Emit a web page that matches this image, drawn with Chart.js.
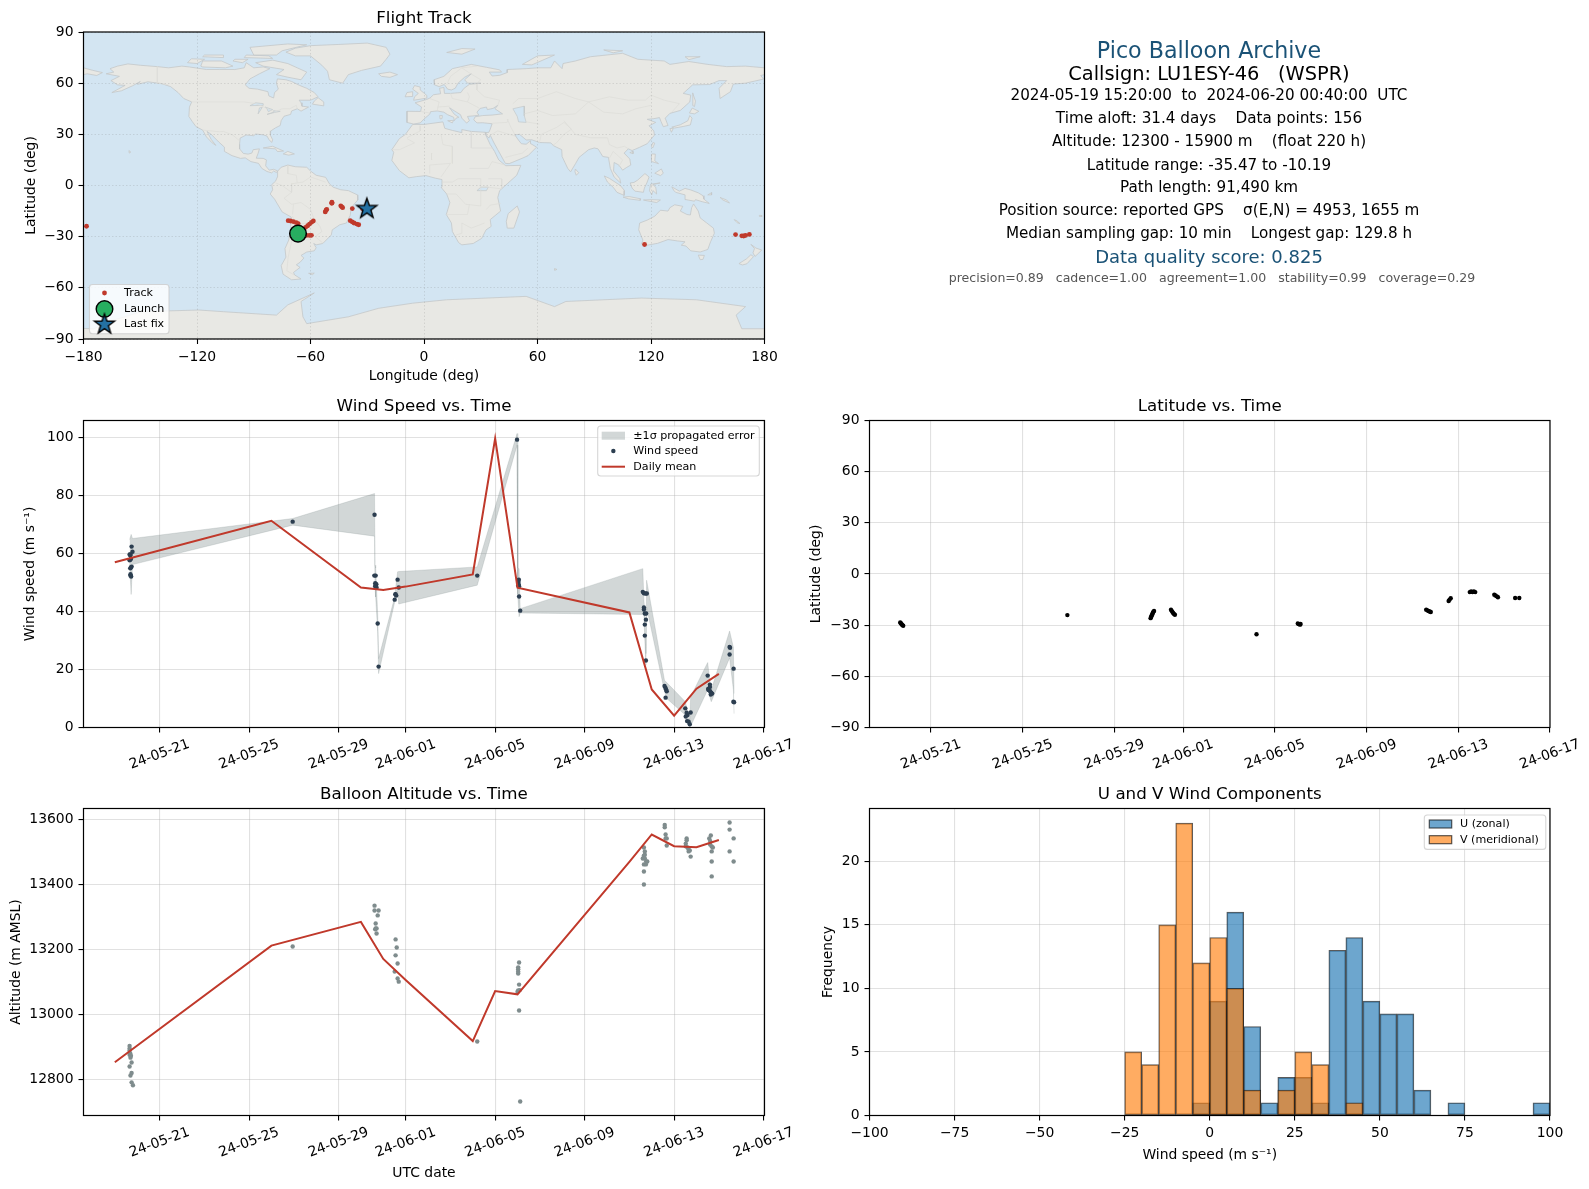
<!DOCTYPE html>
<html>
<head>
<meta charset="utf-8">
<title>Pico Balloon Archive</title>
<script src="https://cdn.jsdelivr.net/npm/chart.js@4/dist/chart.umd.min.js"></script>
<style>
html, body { margin: 0; padding: 0; background: #fff; overflow: hidden; width: 1589px; height: 1189px; }
canvas { position: absolute; }
.info { position: absolute; width: 800px; text-align: center; white-space: pre; font-family: "DejaVu Sans"; transform: translateY(-50%); color: #000; }
</style>
</head>
<body>
<canvas id="mapChart" width="848" height="380" style="left:0;top:5px"></canvas>
<canvas id="windChart" width="848" height="384" style="left:0;top:394px"></canvas>
<canvas id="latChart" width="820" height="384" style="left:800px;top:394px"></canvas>
<canvas id="altChart" width="848" height="400" style="left:0;top:782px"></canvas>
<canvas id="histChart" width="820" height="382" style="left:800px;top:782px"></canvas>
<div id="infoPanel"></div>

<script>
// time axis: days counted from May 0, so 21 = May 21 and 32 = June 1
const timeTicks = [21, 25, 29, 32, 36, 40, 44, 48];
const timeTickLabels = ['24-05-21', '24-05-25', '24-05-29', '24-06-01', '24-06-05', '24-06-09', '24-06-13', '24-06-17'];

// wind speed samples
const windDays = [19.75, 19.79, 19.66, 19.69, 19.70, 19.69, 19.66, 19.72, 19.75, 19.72, 19.69, 19.70, 19.70, 19.73,
    26.95, 30.61, 30.60, 30.66, 30.64, 30.66, 30.69, 30.67, 30.70, 30.64, 30.75, 30.79,
    31.64, 31.69, 31.54, 31.58, 31.51, 31.55, 35.20, 36.98, 37.06, 37.04, 37.05, 37.07, 37.03, 37.07, 37.12,
    42.60, 42.65, 42.78, 42.72, 42.65, 42.65, 42.69, 42.75, 42.74, 42.69, 42.69, 42.74,
    43.57, 43.61, 43.64, 43.67, 43.62, 44.50, 44.56, 44.74, 44.60, 44.52, 44.58, 44.65, 44.70,
    45.50, 45.60, 45.60, 45.52, 45.54, 45.61, 45.66, 45.70, 45.64, 46.48, 46.50, 46.48, 46.66, 46.65, 46.68];
const windSpeeds = [62.4, 60.6, 59.7, 59.4, 59.7, 57.9, 57.7, 58.2, 55.5, 55.2, 54.9, 52.9, 52.4, 52.1,
    71.0, 73.4, 52.4, 52.4, 49.8, 49.1, 49.4, 48.5, 48.2, 48.7, 35.9, 21.0,
    51.0, 48.3, 46.0, 45.5, 44.1, 45.9, 52.4, 99.3, 51.0, 50.2, 49.4, 48.7, 49.0, 45.2, 40.3,
    46.8, 46.3, 46.2, 46.2, 41.4, 40.7, 39.3, 39.3, 37.2, 35.5, 31.7, 23.1,
    14.3, 13.7, 13.1, 12.5, 10.3, 6.6, 5.1, 5.2, 4.3, 3.8, 2.2, 2.0, 1.1,
    17.9, 14.8, 14.0, 13.3, 12.9, 12.5, 12.0, 11.7, 11.4, 27.8, 27.5, 25.2, 20.3, 8.9, 8.7];

// propagated error band
const bandDays = [19.66, 19.73, 19.79, 26.95, 30.61, 30.63, 30.66, 30.75, 30.79, 31.51, 31.55, 31.64, 31.69,
    35.20, 36.98, 37.01, 37.07, 37.12, 42.60, 42.65, 42.69, 42.74, 42.77, 43.57, 43.67,
    44.50, 44.70, 44.74, 45.50, 45.58, 45.66, 46.48, 46.65, 46.68];
const bandUpper = [64.8, 66.6, 65.2, 72.1, 80.7, 56.0, 55.0, 39.0, 23.8, 45.0, 48.0, 53.7, 53.8,
    55.4, 101.4, 55.0, 54.8, 41.0, 54.8, 44.0, 40.0, 25.5, 50.8, 16.3, 15.5,
    8.9, 2.5, 10.6, 22.4, 17.0, 12.9, 33.3, 27.6, 11.7];
const bandLower = [56.6, 45.9, 56.2, 69.8, 66.0, 48.0, 45.0, 33.0, 18.6, 43.3, 44.0, 47.0, 42.6,
    49.1, 97.4, 46.0, 38.2, 39.5, 39.0, 39.0, 30.0, 21.5, 41.5, 12.5, 10.0,
    4.3, 0.2, 0.5, 13.0, 11.0, 8.9, 24.0, 13.0, 4.8];

// daily means
const meanDays = [19, 26, 30, 31, 32, 35, 36, 37, 42, 43, 44, 45, 46];
const meanWind = [57.0, 71.3, 48.3, 47.4, 48.6, 52.8, 99.7, 48.2, 39.7, 13.1, 4.1, 13.4, 18.5];
const meanAlt = [12853, 13212, 13285, 13171, 13106, 12918, 13072, 13062, 13470, 13554, 13518, 13515, 13537];

// altitude samples
const altDays = [19.66, 19.66, 19.66, 19.69, 19.66, 19.72, 19.70, 19.75, 19.66, 19.75, 19.70, 19.75, 19.81,
    26.95, 30.61, 30.61, 30.79, 30.75, 30.66, 30.66, 30.70, 30.64, 30.70,
    31.55, 31.60, 31.55, 31.64, 31.51, 31.64, 31.69, 35.20,
    37.07, 37.03, 37.03, 37.03, 37.03, 37.07, 37.03, 37.00, 37.10, 37.07, 37.12,
    42.65, 42.69, 42.69, 42.65, 42.60, 42.69, 42.75, 42.80, 42.65, 42.74, 42.65, 42.65,
    43.58, 43.58, 43.62, 43.62, 43.67, 43.67, 44.56, 44.56, 44.52, 44.52, 44.60, 44.65, 44.70, 44.65, 44.74,
    45.64, 45.57, 45.61, 45.61, 45.68, 45.73, 45.68, 45.68, 45.68, 46.48, 46.48, 46.66, 46.48, 46.66];
const altMeters = [12903, 12895, 12889, 12880, 12876, 12873, 12867, 12852, 12840, 12820, 12812, 12791, 12782,
    13209, 13335, 13320, 13320, 13305, 13280, 13265, 13265, 13262, 13249,
    13231, 13206, 13182, 13157, 13132, 13111, 13101, 12917,
    13160, 13145, 13139, 13132, 13126, 13092, 13074, 13070, 13075, 13012, 12732,
    13514, 13502, 13492, 13489, 13480, 13480, 13471, 13471, 13462, 13462, 13440, 13400,
    13583, 13576, 13554, 13542, 13542, 13520, 13542, 13536, 13526, 13518, 13514, 13508, 13505, 13502, 13486,
    13551, 13542, 13534, 13523, 13517, 13514, 13502, 13471, 13425, 13591, 13569, 13542, 13502, 13471];

// latitude samples
const latDays = [19.66, 19.69, 19.72, 19.75, 19.79, 26.95,
    30.58, 30.60, 30.62, 30.64, 30.66, 30.68, 30.70, 30.73,
    31.47, 31.50, 31.53, 31.56, 31.60, 31.64, 35.20, 37.00, 37.05, 37.10, 37.12,
    42.60, 42.65, 42.70, 42.75, 42.80, 43.58, 43.62, 43.67,
    44.50, 44.56, 44.62, 44.68, 44.74, 45.57, 45.62, 45.68, 45.73, 46.48, 46.66];
const latValues = [-28.4, -28.9, -29.4, -29.9, -30.3, -24.1,
    -25.9, -25.2, -24.6, -24.0, -23.4, -22.7, -22.2, -21.7,
    -21.0, -21.6, -22.2, -22.8, -23.4, -23.9, -35.3, -29.0, -29.4, -29.7, -29.3,
    -20.9, -21.3, -21.7, -22.0, -22.3, -15.8, -15.0, -14.2,
    -10.6, -10.3, -10.6, -10.3, -10.6, -12.1, -12.6, -13.1, -13.6, -14.1, -14.1];

// flight track
const trackLon = [-66, -64, -62, -60.5, -59.5, -178.4, -62.6, -61.5, -60.5, -59.5, -58.5,
    -71.8, -70.5, -69, -67.5, -66.5, 116.6, 164.7, 168, 169, 170, 172,
    -39, -38, -37, -35.5, -34.5, -52.2, -51.8, -51.4, -48.8, -48.7, -48.6, -44, -43.5, -43, -37.9, -32.5];
const trackLat = [-28.4, -28.8, -29.2, -29.3, -29.2, -23.9, -24.5, -23.6, -22.6, -21.6, -20.8,
    -20.6, -20.8, -21.2, -21.8, -22.4, -34.6, -28.8, -29.5, -29.6, -29.3, -28.7,
    -20.6, -21.3, -22, -22.6, -23, -15.5, -14.5, -14, -10.4, -9.8, -10.2, -11.9, -12.5, -13, -13.5, -13.7];
const launchLon = [-66.6];
const launchLat = [-28.2];
const lastFixLon = [-30.2];
const lastFixLat = [-13.4];

// histogram, 5 m/s bins
const binCenters = [-22.5, -17.5, -12.5, -7.5, -2.5, 2.5, 7.5, 12.5, 17.5, 22.5, 27.5, 32.5, 37.5, 42.5, 47.5, 52.5, 57.5, 62.5, 67.5, 72.5, 77.5, 82.5, 87.5, 92.5, 97.5];
const uCounts = [0, 0, 0, 0, 1, 9, 16, 7, 1, 3, 3, 1, 13, 14, 9, 8, 8, 2, 0, 1, 0, 0, 0, 0, 1];
const vCounts = [5, 4, 15, 23, 12, 14, 10, 2, 0, 2, 5, 4, 0, 1, 0, 0, 0, 0, 0, 0, 0, 0, 0, 0, 0];

// text panel: text, centre y, font px, colour, left edge of the centred block
const infoLines = [
    ['Pico Balloon Archive', 50, 22.2, '#1a5276', 809],
    ['Callsign: LU1ESY-46   (WSPR)', 72.8, 19.4, '#000', 809],
    ['2024-05-19 15:20:00  to  2024-06-20 00:40:00  UTC', 94.7, 15.2, '#000', 809],
    ['Time aloft: 31.4 days    Data points: 156', 118, 15.2, '#000', 809],
    ['Altitude: 12300 - 15900 m    (float 220 h)', 141, 15.2, '#000', 809],
    ['Latitude range: -35.47 to -10.19', 165, 15.2, '#000', 809],
    ['Path length: 91,490 km', 187, 15.2, '#000', 809],
    ['Position source: reported GPS    σ(E,N) = 4953, 1655 m', 210, 15.2, '#000', 809],
    ['Median sampling gap: 10 min    Longest gap: 129.8 h', 233, 15.2, '#000', 809],
    ['Data quality score: 0.825', 256, 18, '#1a5276', 809],
    ['precision=0.89   cadence=1.00   agreement=1.00   stability=0.99   coverage=0.29', 276.8, 12.55, '#555', 812],
];

// base map, [lon, lat] outlines
const landShapes = [
    // North America
    [[-168,65.5],[-164,66.5],[-166,68.5],[-162,70],[-156.5,71.3],[-150,70.5],[-141,69.7],[-135,69],[-128,70],[-124,69.5],[-115,68],[-108,68],[-100,68],[-95,69],[-94,72],[-90,69],[-85,69.5],[-81.5,68.5],[-87,65.5],[-92,62.5],[-94.5,59],[-92.5,57],[-88,56.5],[-82.5,55],[-82,52.5],[-79.5,51.3],[-79,54.5],[-77,56.5],[-78,60],[-77.5,62.5],[-73,62],[-70,61],[-66,58.8],[-62,57],[-58,54.5],[-56,52],[-60,50],[-66,50],[-65,48.5],[-64.5,46.5],[-61,46],[-65,43.6],[-67,45],[-70,43.7],[-70.5,41.7],[-74,40.6],[-75.5,38],[-76,35.2],[-78.5,33.8],[-81,32],[-81.2,29.5],[-80,26.8],[-80.5,25.2],[-82,27],[-83,29],[-85,29.7],[-89,30.2],[-90,29.2],[-94,29.6],[-97.2,27.8],[-97.5,24],[-97.5,21.5],[-95.5,18.8],[-93,18.4],[-91,19],[-90.3,21],[-87,21.5],[-87.8,18.5],[-88.7,16],[-85,15.9],[-83.3,15],[-83.7,11.5],[-81.8,9],[-79.5,9.5],[-77.4,8.6],[-78,7.6],[-79.5,8.5],[-80.5,7.4],[-83,8.2],[-85.7,10],[-87.5,13],[-91.5,14],[-94.5,16.2],[-97,15.9],[-101.5,17.5],[-105.5,20],[-105.5,22.5],[-108.5,25.5],[-112.5,30],[-114.7,31.7],[-112.5,27],[-110,23.5],[-112,25],[-115,28.5],[-117,32.5],[-120.5,34.5],[-122.5,37.5],[-124.3,40.5],[-124,46],[-122.8,49],[-127,51],[-130,54.5],[-134,58],[-139,59.8],[-146,60.8],[-151.5,59.3],[-150,61],[-154,58.5],[-160,55.5],[-165,54.5],[-158,58.7],[-162,59],[-165.5,61.5],[-161,64]],
    // Canadian Arctic, Newfoundland
    [[-80,73.5],[-72,71.5],[-67,69],[-62,66.5],[-65,62],[-72,63.5],[-78,65],[-74,68],[-85,70],[-89,72]],
    [[-117,69.5],[-105,69],[-101,70],[-107,73],[-117,73],[-118,70]],
    [[-125,72],[-123,74.3],[-116,74],[-120,71.5]],
    [[-90,76.5],[-78,76.5],[-75,79],[-62,82.5],[-72,83],[-92,81]],
    [[-95,75],[-80,74.5],[-82,76],[-94,76.5]],
    [[-117,75.5],[-106,75],[-106,76.5],[-116,76.5]],
    [[-101,73],[-96,72],[-93,74],[-100,74]],
    [[-59,47.7],[-53,46.7],[-53,49],[-56,51.5],[-58,49.5]],
    // Greenland, Iceland, British Isles
    [[-73,78.2],[-68,76],[-60,76],[-54,70.5],[-51,67],[-50,62],[-43,60],[-40,65],[-33,67.5],[-23,70],[-20,74],[-18,77],[-20,81],[-30,83.5],[-45,82.7],[-60,82],[-68,80.5]],
    [[-24,65.5],[-18,66.5],[-14,65],[-18,63.4],[-22.5,64]],
    [[-5.5,50],[1.3,51.2],[1.5,52.8],[-2,56],[-2,57.7],[-5,58.6],[-6,56.5],[-3,54],[-5,52]],
    [[-10,52],[-6,52.2],[-6,55],[-9,54.5]],
    // Caribbean, Hawaii
    [[-85,22],[-80,23],[-74.2,20.2],[-77.5,19.9],[-78.5,21.5]],
    [[-74.4,18.5],[-72,20],[-68.5,18.5],[-71.5,17.8]],
    [[-156,20.5],[-155,19.6],[-155.8,19]],
    // South America
    [[-77.3,8.5],[-75.5,10.7],[-72,12],[-68,11],[-62,10.7],[-60,8.5],[-57,6],[-52,4.8],[-50,1],[-48,-1],[-44,-2.5],[-40,-3],[-35.2,-5.5],[-35,-8.5],[-38.5,-13],[-39,-17.5],[-41,-22],[-44.5,-23],[-48.5,-26],[-49,-29],[-53.5,-34],[-57,-34.8],[-58.3,-34],[-57,-36.5],[-58,-38.3],[-62,-39],[-65,-41],[-63.5,-42.5],[-65.5,-45],[-67.5,-46.5],[-65.5,-48],[-69,-51],[-68.3,-52.5],[-65,-54.8],[-70,-55.3],[-74.5,-52],[-75.5,-47],[-73,-42],[-73.5,-37],[-71.5,-32],[-70.5,-25],[-70.2,-18.5],[-75,-15.5],[-79,-8],[-81.3,-5],[-80,-2.5],[-80.5,0.5],[-78.5,2.5],[-77.5,5],[-77.5,7]],
    [[-61,-51.5],[-58,-51.4],[-59,-52.3]],
    // Africa, Madagascar
    [[-6,35.8],[0,35.8],[10,37.3],[11,33.5],[15,32.3],[20,31],[20,32.8],[25,31.7],[32.5,31.2],[32.5,29.9],[35,24],[37.3,20],[39.5,15],[43.2,11.6],[51.2,11.8],[49,6],[44,1],[40,-3],[39,-7],[40.5,-15],[35,-20],[35.5,-24],[32.8,-26],[30.5,-31],[26,-34],[20,-34.8],[18.3,-33.5],[15,-27],[14.5,-22],[11.8,-17],[13.7,-10],[12,-5],[9,-1],[9.5,3.5],[6,4.3],[1,5.8],[-4,5.2],[-8,4.5],[-13,8.7],[-17,14.7],[-16,19.5],[-17,21],[-13,27.5],[-9.8,30]],
    [[49.3,-12],[50.5,-15.5],[47.5,-25],[44,-25],[43.5,-21],[44.5,-16.5]],
    // Eurasia
    [[-9,37],[-5.5,36],[-2,36.7],[0,39],[3,41.8],[3.5,43.3],[7,43.7],[10.5,43],[12.5,41.5],[15.7,40],[16,38],[17,39.5],[18.4,40],[16,41.8],[13.5,45.6],[15,44.5],[19.3,41.5],[20,39.5],[22.5,36.6],[24,38],[23,40.5],[26,40.8],[29,41.2],[28,43],[29.7,45.2],[33,46],[33.5,44.5],[36.5,45.2],[39,47],[37.5,45],[41.5,42],[36,41.3],[31,41],[27,40.3],[26.3,38.5],[28,36.7],[31,36.8],[36,36.2],[35,33],[34.3,31.2],[32.5,31],[32.7,29.9],[34.3,27.8],[35,29.5],[37,25],[39,21],[43,13],[45,12.8],[52,16],[55,17.5],[59.5,22.5],[56.5,24.5],[56.3,26.2],[54,24.2],[51.5,24.5],[50,26.5],[48,29.7],[50.5,30],[54,26.7],[57,26.8],[61,25.2],[67,25],[68.5,23.3],[72.8,21],[73,17],[76,10],[77.5,8],[80.2,13],[82,16.5],[87,21],[90,22],[92,21.5],[94.5,17],[97.5,16.5],[98.5,10],[100.5,5],[104,1.4],[103.5,4],[100.2,8.5],[100.5,13.5],[103,12],[105,9],[107,10.5],[109.3,12],[108.8,15.5],[105.8,19],[108,21.5],[110,20.5],[113.8,22.3],[118,24.5],[121.8,29.5],[121.5,32],[119,35],[122.5,37],[118,38.8],[121.5,39.2],[124.5,39.8],[125.3,37.5],[126.5,34.5],[129,35.2],[127.5,39.5],[130,42.3],[135.5,44],[140.5,49],[141,53],[137,54],[142,59],[151,59.2],[156,61.5],[160,61.5],[156,57],[156.5,51],[162,55],[163.5,59.5],[170,60],[179.5,62.4],[178,64.5],[180,65],[180,69],[170,70],[160,69.7],[150,71],[140,72.7],[130,71],[127,73],[113,74],[105,77.5],[88,75.5],[80,73],[73.5,71.5],[73,68.5],[69,73],[67,69],[60,69],[54,68.5],[44,68],[44,66.2],[40,64.6],[36,64.2],[34.5,66.5],[41,66.5],[40,67.8],[33,69.3],[25,71],[15,68.5],[10.5,64],[5.3,62],[5.5,59],[8,58],[10.7,59.2],[12.5,56.5],[14.5,56],[16.5,57],[18,60],[21.5,63.5],[25,65.5],[21.5,62],[23,60],[30,60],[24,59.3],[21,56.8],[19.5,54.5],[14,54],[10.8,54],[10.5,57.5],[8.2,57],[8.8,53.8],[5,53.2],[3.2,51.3],[1.5,50.5],[-1.5,49.5],[-4.7,48.5],[-1.3,46],[-1.8,43.4],[-9,43.5]],
    [[-180,69],[-175,67.5],[-170,66.2],[-173,64.5],[-178,65.5],[-180,65]],
    // Arctic Russia, Svalbard
    [[12,78],[20,80.3],[27,80],[20,77]],
    [[52,71],[57,70.7],[69,76.5],[60,76]],
    [[95,79.5],[105,79],[100,77.8]],
    [[138,75.5],[146,75.5],[140,73.8]],
    // Mediterranean islands, Sri Lanka, Taiwan, Hainan
    [[12.5,38],[15.6,38.2],[15,36.7]],
    [[8.3,41],[9.7,41],[9.5,39.2],[8.5,39]],
    [[80,9.7],[81.8,7.5],[80.5,6],[79.8,8]],
    [[121,25.2],[122,24.8],[120.9,22],[120.2,23]],
    [[108.8,19.3],[110.5,20],[110.5,18.6]],
    // Japan, Sakhalin
    [[131,34.2],[135.5,35.6],[139.5,38],[140.5,41],[141.7,39.5],[140.8,35.5],[137,34.6],[132.5,33.7]],
    [[130,33.4],[131.8,33.5],[130.8,31.2]],
    [[140.3,42.5],[141.8,45.4],[145.3,43.5],[143,42]],
    [[142,54.3],[143.5,49.5],[143,46.3],[142,47],[142.2,51]],
    // Southeast Asia
    [[120.5,18.5],[122.3,18.4],[122,14.5],[124,12.8],[120.5,14],[120,16.5]],
    [[122,7.2],[125.5,9.7],[126.5,7.2],[125,5.8]],
    [[109,1.5],[111,1.8],[113,3.2],[116.8,7],[119,5],[117.8,1.5],[116.5,-1.5],[116,-4],[111.5,-3.3],[110,-1.5]],
    [[95.3,5.6],[98,4.2],[103.8,0],[106,-3],[105.8,-5.8],[102,-4],[100,-1],[97,2]],
    [[105.2,-6.8],[108.5,-6.5],[114.5,-7.8],[114.3,-8.7],[108,-7.8]],
    [[119.8,0.8],[124.8,1.5],[121,0.5],[122.5,-1],[123,-5],[121,-3],[120.4,-5.5],[119.2,-3]],
    [[116,-8.5],[120,-8.3],[125,-8.5],[123,-10],[118,-9]],
    [[131,-0.8],[135,-3.3],[138,-1.7],[141,-2.6],[145,-4.3],[147.5,-6],[148,-8],[150.8,-10.5],[147,-9.5],[143.5,-8.3],[143,-9.2],[138.5,-8.3],[138,-5.5],[133,-4],[132,-2.8]],
    [[150,-5.5],[152,-4.2],[152,-5.5]],
    [[156.5,-7],[160,-8.5],[161.5,-10.3],[158,-8.5]],
    // Oceania
    [[114,-22],[113.5,-26],[115.7,-32],[115,-34.3],[118,-35],[123.5,-33.9],[129,-31.7],[134,-32.5],[138,-33],[136,-35],[138.5,-35.5],[141,-38.3],[146,-39],[150,-37.5],[151.5,-33],[153.5,-28],[153,-25],[149.5,-22],[146,-19],[145,-15],[142.5,-10.8],[141.5,-13],[140.8,-17.3],[139,-17],[135.5,-15],[136.8,-12.2],[132.5,-11.3],[130,-13],[129,-15],[125,-14.5],[122,-18],[118,-20.3]],
    [[145,-40.8],[148.2,-41],[147.5,-43.3],[146,-43.5]],
    [[172.8,-34.5],[175.5,-36.7],[178.5,-37.8],[177,-39.6],[175,-41.6],[173.9,-39.5],[174.7,-37]],
    [[172.8,-40.6],[174.2,-41.7],[170.7,-45.9],[168.3,-46.6],[166.5,-45.8],[170.5,-43]],
    [[164,-20],[165.5,-20.8],[167,-22.3],[165.5,-21.8]],
    [[177.3,-17.5],[178.5,-17.6],[178.5,-18.2],[177.3,-18.1]],
    [[69,-48.7],[70.3,-49.2],[69.2,-49.7]],
    // Antarctica
    [[-180,-83.8],[-174.5,-84],[-168,-80],[-158,-77],[-150,-74],[-119,-73],[-106,-74],[-78,-76],[-72,-70],[-58,-63],[-65,-68],[-64,-77],[-62,-81],[-40,-77],[-24,-72],[-6,-69],[12,-67],[54,-65],[69,-71],[75,-68],[115,-66],[144,-67],[170,-71],[165,-76],[168,-84],[180,-84],[180,-90],[-180,-90]],
];
const waterShapes = [
    [[47,45],[53,46.5],[53,41],[54,37],[50,37.3],[49.3,40.5]],
    [[-92,46.8],[-85,47],[-85,48],[-89,48.5]],
    [[-87.7,42],[-85.5,45.8],[-87,45.5]],
    [[-84,46],[-80,44.5],[-82.3,43.3],[-83,45]],
    [[-83,41.7],[-79,42.8],[-76,43.5],[-79.5,43.8],[-79.5,43]],
    [[28,-3],[30,-1],[34,-1],[33,-3]],
];
const borderLines = [
    [[-123,49],[-95,49],[-89,48],[-82.5,45],[-79,43],[-75,45],[-71,45],[-67.5,47],[-67,45]],
    [[-141,69.7],[-141,60],[-135,59]],
    [[-117,32.5],[-108,31.5],[-106,31.7],[-101,29.5],[-97.3,26]],
    [[-52,2],[-60,5],[-64,2],[-70,1],[-70,-4],[-74,-7.5],[-70,-11],[-65,-10],[-60,-14],[-58,-20],[-55,-24],[-54,-27],[-57.5,-30],[-53.5,-33.7]],
    [[-69.5,-18],[-68,-23],[-70,-33],[-71.8,-42],[-72.5,-50],[-68.5,-52.5]],
    [[-69.5,-17],[-69,-11]],
    [[-78.5,1.5],[-75,0],[-70,-4]],
    [[-72,11.5],[-72,7],[-67.5,6],[-67,1.5]],
    [[-68,-23],[-62,-22],[-58,-20]],
    [[9,30],[10,24],[12,23.5],[15,23],[15,13]],
    [[25,31.5],[25,22],[36.5,22]],
    [[4,19],[4,15]],
    [[-17,21],[-13,21],[-5,25],[-9,27.5]],
    [[-2,35],[-2,32],[-9,28]],
    [[24,10],[34,10],[36,14],[43,12]],
    [[12,-5],[17,-5],[22,-11],[30,-12],[30,-1],[30,4],[18,4],[15,2],[9.5,2]],
    [[17,-29],[20,-28],[20,-22],[25,-25],[32,-22]],
    [[12,-17],[23,-17],[24,-11]],
    [[34,4],[41,4],[41,-2],[34,-1],[30,-1]],
    [[40.5,-10.5],[35,-11.5],[33,-14]],
    [[3,7],[3,12],[14,13],[9,5]],
    [[28,60],[28,56],[32,52],[40,50],[39,47]],
    [[47,48],[50,51],[60,51],[70,55],[80,51],[87,49],[98,52],[108,50],[117,50],[120,53],[127,50],[135,48],[131,43]],
    [[87,49],[95,43],[105,42],[112,45],[120,47]],
    [[74,38],[80,30],[88,28],[97,28],[98,24],[102,22],[106,23],[108,21.5]],
    [[61,25],[62,30],[70,34],[74,37],[78,33],[74,30],[70,25],[68,23.5]],
    [[44,39],[46,34],[48,30]],
    [[61,36],[54,37.3]],
    [[53,42],[60,44],[68,41],[80,42],[87,49]],
    [[36,36.5],[44,37],[44.5,39]],
    [[35,29.5],[39,32],[48,29]],
    [[55,22],[52,19],[43,16.5]],
    [[-1.8,43.4],[3,42.5]],
    [[3,51],[8,49],[7,44]],
    [[14,54],[15,51],[23,49],[24,52],[23,54.5]],
    [[7,46],[13.5,46.5]],
    [[23,49],[29,45.5]],
    [[12,59],[14,64],[20,69],[28,70]],
    [[20,69],[24,66],[30,62],[28,60]],
    [[98,16],[100,20],[102,18],[105,15],[103,11]],
];

Chart.defaults.font.family = "'DejaVu Sans', sans-serif";
Chart.defaults.font.size = 13.9;
Chart.defaults.color = '#000';
Chart.defaults.animation = false;
Chart.defaults.events = [];
Chart.defaults.plugins.legend.display = false;
Chart.defaults.plugins.tooltip.enabled = false;

const GRID = 'rgba(176,176,176,0.38)';
const MAP_GRID = 'rgba(120,120,120,0.25)';
const RED = '#c0392b';
const BAND = 'rgba(127,140,141,0.35)';
const BAND_EDGE = 'rgba(127,140,141,0.22)';

function pairs(xs, ys) {
    return xs.map((x, i) => ({ x: x, y: ys[i] }));
}

function outline(shape, closed) {
    const pts = shape.map(p => ({ x: p[0], y: p[1] }));
    if (closed) pts.push(pts[0]);
    return pts;
}

// five pointed star sprite, Chart.js only has the line version
function starSprite(fill) {
    const c = document.createElement('canvas');
    c.width = 26;
    c.height = 26;
    const g = c.getContext('2d');
    g.translate(13, 13.5);
    g.beginPath();
    for (let i = 0; i < 10; i++) {
        const r = i % 2 ? 4.2 : 10.5;
        const a = -Math.PI / 2 + i * Math.PI / 5;
        g.lineTo(r * Math.cos(a), r * Math.sin(a));
    }
    g.closePath();
    g.fillStyle = fill;
    g.fill();
    g.lineWidth = 1.4;
    g.strokeStyle = '#000';
    g.stroke();
    return c;
}
const starImage = starSprite('#2471a3');

// axes frame, plot-centred title, date labels centred on the tick, legend inside the plot
const panelPlugin = {
    id: 'panel',
    beforeDraw(chart, args, opts) {
        if (!opts.background) return;
        const a = chart.chartArea;
        chart.ctx.fillStyle = opts.background;
        chart.ctx.fillRect(a.left, a.top, a.right - a.left, a.bottom - a.top);
    },
    afterDraw(chart, args, opts) {
        const ctx = chart.ctx;
        const a = chart.chartArea;
        ctx.save();
        ctx.strokeStyle = '#000';
        ctx.lineWidth = 1.2;
        ctx.strokeRect(a.left, a.top, a.right - a.left, a.bottom - a.top);
        ctx.fillStyle = '#000';
        ctx.textAlign = 'center';
        ctx.textBaseline = 'middle';
        ctx.font = "16.7px 'DejaVu Sans'";
        ctx.fillText(opts.title, (a.left + a.right) / 2, a.top - 13.5);
        if (opts.dateLabels) {
            ctx.font = "13.9px 'DejaVu Sans'";
            timeTicks.forEach((t, i) => {
                ctx.save();
                ctx.translate(chart.scales.x.getPixelForValue(t), a.bottom + 27);
                ctx.rotate(-20 * Math.PI / 180);
                ctx.fillText(timeTickLabels[i], 0, 0);
                ctx.restore();
            });
        }
        if (opts.legend) drawLegend(ctx, opts.legend);
        ctx.restore();
    }
};
Chart.register(panelPlugin);

function drawLegend(ctx, lg) {
    ctx.beginPath();
    ctx.roundRect(lg.x, lg.y, lg.w, lg.h, 3);
    ctx.fillStyle = 'rgba(255,255,255,0.8)';
    ctx.fill();
    ctx.strokeStyle = 'rgba(204,204,204,0.8)';
    ctx.lineWidth = 1.1;
    ctx.stroke();
    ctx.font = "11.1px 'DejaVu Sans'";
    ctx.textAlign = 'left';
    ctx.textBaseline = 'middle';
    lg.items.forEach(it => {
        const mid = lg.swatchX + lg.swatchW / 2;
        if (it.kind === 'box') {
            ctx.fillStyle = it.fill;
            ctx.fillRect(lg.swatchX, it.y - 4, lg.swatchW, 8);
            if (it.stroke) {
                ctx.strokeStyle = it.stroke;
                ctx.lineWidth = 1.2;
                ctx.strokeRect(lg.swatchX, it.y - 4, lg.swatchW, 8);
            }
        } else if (it.kind === 'line') {
            ctx.strokeStyle = it.stroke;
            ctx.lineWidth = 2;
            ctx.beginPath();
            ctx.moveTo(lg.swatchX, it.y);
            ctx.lineTo(lg.swatchX + lg.swatchW, it.y);
            ctx.stroke();
        } else if (it.kind === 'dot') {
            ctx.beginPath();
            ctx.arc(mid, it.y, it.r, 0, Math.PI * 2);
            ctx.fillStyle = it.fill;
            ctx.fill();
            if (it.stroke) {
                ctx.strokeStyle = it.stroke;
                ctx.lineWidth = 1.4;
                ctx.stroke();
            }
        } else if (it.kind === 'star') {
            ctx.drawImage(starImage, mid - 13, it.y - 13);
        }
        ctx.fillStyle = '#000';
        ctx.fillText(it.label, lg.textX, it.y);
    });
}

function sharedGrid(extra) {
    return Object.assign({ color: GRID, lineWidth: 1.1, tickColor: '#000', tickWidth: 1.1, tickLength: 5 }, extra);
}

function minusSign(v) {
    return String(v).replace('-', '\u2212');
}

function yAxis(width, label, titlePad, min, max, step, extra) {
    return Object.assign({
        type: 'linear', min: min, max: max,
        afterFit: s => { s.width = width; },
        border: { display: false },
        grid: sharedGrid(),
        // includeBounds off so no tick lands on a non-round axis limit
        ticks: { stepSize: step, includeBounds: false, padding: 5, maxRotation: 0, callback: minusSign },
        title: { display: true, text: label, font: { size: 13.9 }, padding: { top: titlePad, bottom: 0 } }
    }, extra);
}

function valueAxis(min, max, step, height, label, extra) {
    return Object.assign({
        type: 'linear', min: min, max: max,
        afterFit: s => { s.height = height; },
        border: { display: false },
        grid: sharedGrid(),
        ticks: { stepSize: step, padding: 5, maxRotation: 0, autoSkip: false, callback: minusSign },
        title: { display: true, text: label, font: { size: 13.9 }, padding: { top: 0, bottom: 0 } }
    }, extra);
}

function timeAxis(min, max, height, label) {
    return {
        type: 'linear', min: min, max: max,
        afterFit: s => { s.height = height; },
        border: { display: false },
        grid: sharedGrid(),
        afterBuildTicks: s => { s.ticks = timeTicks.map(v => ({ value: v })); },
        ticks: { display: false, autoSkip: false },
        title: { display: !!label, text: label || '', font: { size: 13.9 }, padding: { top: 0, bottom: 0 } }
    };
}

function dots(data, color, r, order) {
    return { data: data, showLine: false, pointRadius: r, pointBackgroundColor: color, pointBorderWidth: 0, order: order };
}

function meanLine(days, values) {
    return { data: pairs(days, values), borderColor: RED, borderWidth: 2, pointRadius: 0, tension: 0, order: 0 };
}

// 1. Flight track
function renderMapChart() {
    const datasets = [];
    landShapes.forEach(s => datasets.push({ data: outline(s, true), fill: 'shape', backgroundColor: '#e8e8e4', borderColor: '#c4c8c9', borderWidth: 0.8, pointRadius: 0, order: 6 }));
    waterShapes.forEach(s => datasets.push({ data: outline(s, true), fill: 'shape', backgroundColor: '#d3e5f2', borderColor: '#c4c8c9', borderWidth: 0.7, pointRadius: 0, order: 5 }));
    borderLines.forEach(s => datasets.push({ data: outline(s, false), borderColor: '#dcdcd8', borderWidth: 0.7, pointRadius: 0, order: 4 }));
    datasets.push(dots(pairs(trackLon, trackLat), RED, 2.4, 3));
    datasets.push({ data: pairs(launchLon, launchLat), showLine: false, pointRadius: 8.3, pointBackgroundColor: '#27ae60', pointBorderColor: '#000', pointBorderWidth: 1.5, order: 2 });
    datasets.push({ data: pairs(lastFixLon, lastFixLat), showLine: false, pointRadius: 11, pointStyle: starImage, order: 1 });

    const mapGrid = sharedGrid({ color: MAP_GRID, lineWidth: 0.8, z: 1 });
    const mapBorder = { display: false, dash: [1.5, 2] };
    new Chart(document.getElementById('mapChart'), {
        type: 'line',
        data: { datasets: datasets },
        options: {
            responsive: false,
            layout: { padding: { top: 27, right: 83.5, left: 0, bottom: 0 } },
            scales: {
                x: valueAxis(-180, 180, 60, 46, 'Longitude (deg)', { grid: mapGrid, border: mapBorder }),
                y: yAxis(83.5, 'Latitude (deg)', 23.4, -90, 90, 30, { grid: mapGrid, border: mapBorder })
            },
            plugins: {
                panel: {
                    title: 'Flight Track',
                    background: '#d3e5f2',
                    legend: {
                        x: 89.5, y: 279.5, w: 79.5, h: 49.3, swatchX: 95, swatchW: 19, textX: 124,
                        items: [
                            { kind: 'dot', label: 'Track', y: 288, r: 2.4, fill: RED },
                            { kind: 'dot', label: 'Launch', y: 304, r: 8.3, fill: '#27ae60', stroke: '#000' },
                            { kind: 'star', label: 'Last fix', y: 319 }
                        ]
                    }
                }
            }
        }
    });
}

// 2. Wind speed
function renderWindChart() {
    new Chart(document.getElementById('windChart'), {
        type: 'line',
        data: {
            datasets: [
                meanLine(meanDays, meanWind),
                dots(pairs(windDays, windSpeeds), '#2c3e50', 2.2, 1),
                { data: pairs(bandDays, bandUpper), fill: '+1', backgroundColor: BAND, borderColor: BAND_EDGE, borderWidth: 1, pointRadius: 0, order: 2 },
                { data: pairs(bandDays, bandLower), borderColor: BAND_EDGE, borderWidth: 1, pointRadius: 0, order: 3 }
            ]
        },
        options: {
            responsive: false,
            layout: { padding: { top: 26.5, right: 83.5, left: 0, bottom: 0 } },
            scales: {
                x: timeAxis(17.6, 48.04, 50.5),
                y: yAxis(83.5, 'Wind speed (m s\u207B\u00B9)', 22.2, 0, 105.9, 20, {})
            },
            plugins: {
                panel: {
                    title: 'Wind Speed vs. Time',
                    dateLabels: true,
                    legend: {
                        x: 597.7, y: 32, w: 161.6, h: 50, swatchX: 601.7, swatchW: 23.3, textX: 633.3,
                        items: [
                            { kind: 'box', label: '\u00B11\u03C3 propagated error', y: 41.7, fill: BAND },
                            { kind: 'dot', label: 'Wind speed', y: 57, r: 2.2, fill: '#2c3e50' },
                            { kind: 'line', label: 'Daily mean', y: 72.7, stroke: RED }
                        ]
                    }
                }
            }
        }
    });
}

// 3. Latitude
function renderLatChart() {
    new Chart(document.getElementById('latChart'), {
        type: 'line',
        data: { datasets: [dots(pairs(latDays, latValues), '#000', 2.2, 0)] },
        options: {
            responsive: false,
            layout: { padding: { top: 26.5, right: 70, left: 0, bottom: 0 } },
            scales: {
                x: timeAxis(18.32, 48, 50.5),
                y: yAxis(69.5, 'Latitude (deg)', 7.7, -90, 90, 30, {})
            },
            plugins: {
                panel: { title: 'Latitude vs. Time', dateLabels: true }
            }
        }
    });
}

// 4. Altitude
function renderAltChart() {
    new Chart(document.getElementById('altChart'), {
        type: 'line',
        data: {
            datasets: [
                meanLine(meanDays, meanAlt),
                dots(pairs(altDays, altMeters), '#7f8c8d', 2.2, 1)
            ]
        },
        options: {
            responsive: false,
            layout: { padding: { top: 26.5, right: 83.5, left: 0, bottom: 0 } },
            scales: {
                x: timeAxis(17.6, 48.04, 66.5, 'UTC date'),
                y: yAxis(83.5, 'Altitude (m AMSL)', 8, 12689, 13634, 200, {})
            },
            plugins: {
                panel: { title: 'Balloon Altitude vs. Time', dateLabels: true }
            }
        }
    });
}

// 5. U and V histogram
function renderHistChart() {
    const edge = 'rgba(20,20,20,0.7)';
    const bar = { barPercentage: 1, categoryPercentage: 1, borderWidth: 1, borderColor: edge, borderSkipped: false };
    new Chart(document.getElementById('histChart'), {
        type: 'bar',
        data: {
            datasets: [
                Object.assign({ data: pairs(binCenters, uCounts), backgroundColor: 'rgba(31,119,180,0.65)', order: 2 }, bar),
                Object.assign({ data: pairs(binCenters, vCounts), backgroundColor: 'rgba(255,127,14,0.65)', order: 1 }, bar)
            ]
        },
        options: {
            responsive: false,
            layout: { padding: { top: 26.5, right: 70, left: 0, bottom: 0 } },
            scales: {
                x: valueAxis(-100, 100, 25, 48.5, 'Wind speed (m s\u207B\u00B9)', { offset: false, grid: sharedGrid({ offset: false }) }),
                y: yAxis(69.5, 'Frequency', 20, 0, 24.15, 5, {})
            },
            datasets: { bar: { grouped: false } },
            plugins: {
                panel: {
                    title: 'U and V Wind Components',
                    legend: {
                        x: 624.3, y: 33, w: 121.5, h: 34.4, swatchX: 629.3, swatchW: 22.4, textX: 660,
                        items: [
                            { kind: 'box', label: 'U (zonal)', y: 42, fill: 'rgba(31,119,180,0.65)', stroke: edge },
                            { kind: 'box', label: 'V (meridional)', y: 57.7, fill: 'rgba(255,127,14,0.65)', stroke: edge }
                        ]
                    }
                }
            }
        }
    });
}

function renderInfoPanel() {
    const panel = document.getElementById('infoPanel');
    infoLines.forEach(line => {
        const el = document.createElement('div');
        el.className = 'info';
        el.textContent = line[0];
        el.style.top = line[1] + 'px';
        el.style.fontSize = line[2] + 'px';
        el.style.color = line[3];
        el.style.left = line[4] + 'px';
        panel.appendChild(el);
    });
}

renderMapChart();
renderWindChart();
renderLatChart();
renderAltChart();
renderHistChart();
renderInfoPanel();
</script>
</body>
</html>
